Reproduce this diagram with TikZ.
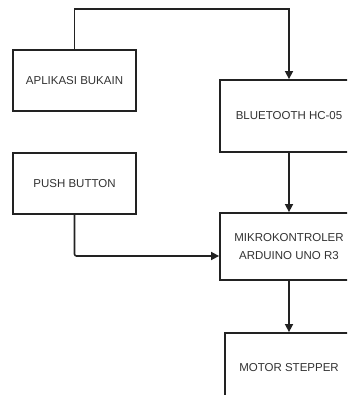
\documentclass[tikz,border=0pt]{standalone}
\usepackage{fontspec}
\setmainfont{Liberation Sans}
\usetikzlibrary{arrows.meta}
\definecolor{ln}{HTML}{222222}
\definecolor{tx}{HTML}{333333}
\tikzset{
  blk/.style={draw=ln, line width=1.8pt, fill=white, align=center, inner sep=0pt,
    font=\fontsize{11.5}{17.5}\selectfont, text=tx},
  arr/.style={draw=ln, line width=1.6pt, -{Triangle[length=8pt,width=8pt]}}
}
\begin{document}
\begin{tikzpicture}[x=1pt,y=-1pt]
\clip (0,0) rectangle (347,395);
\fill[white] (0,0) rectangle (347,395);
\node[blk, minimum width=123pt, minimum height=61pt] (apl) at (74.5,80.5) {APLIKASI BUKAIN};
\node[blk, minimum width=138pt, minimum height=72pt] (bt) at (289,116) {BLUETOOTH HC-05};
\node[blk, minimum width=123pt, minimum height=61pt] (push) at (74.5,183.5) {PUSH BUTTON};
\node[blk, minimum width=138pt, minimum height=67pt] (mik) at (289,246.5) {MIKROKONTROLER\\ARDUINO UNO R3};
\node[blk, minimum width=128pt, minimum height=70pt] (mot) at (289,368) {MOTOR STEPPER};
\coordinate (topc) at (289,9);
\draw[arr] (apl.north) |- (topc) -- (bt.north);
\draw[arr] (bt.south) -- (mik.north);
\draw[arr, rounded corners=2pt] (push.south) |- ([yshift=-9.5pt]mik.west);
\draw[arr] (mik.south) -- (mot.north);
\end{tikzpicture}
\end{document}
